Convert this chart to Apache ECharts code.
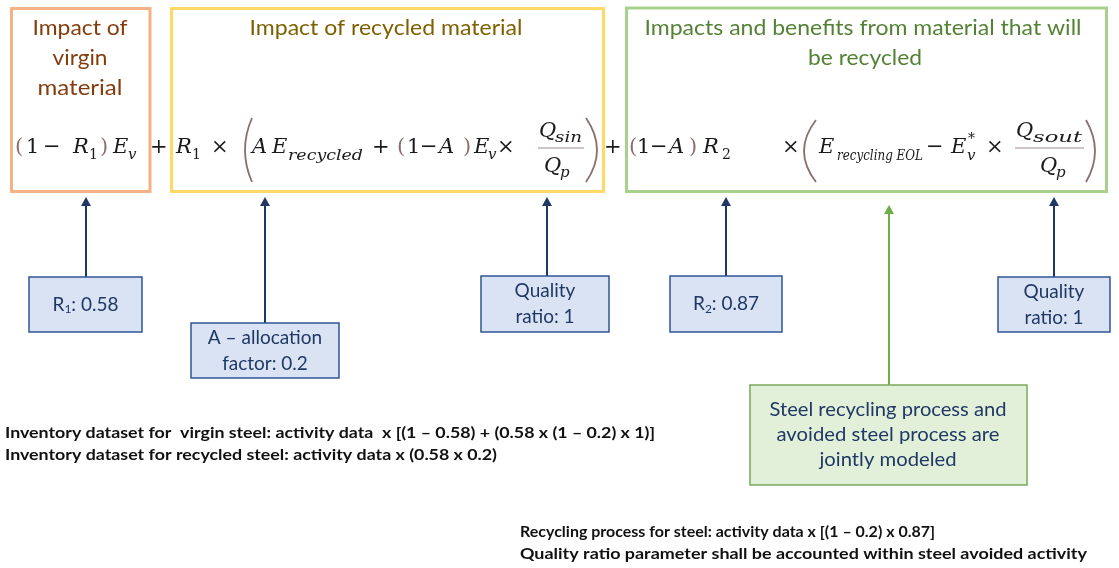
<!DOCTYPE html>
<html><head><meta charset="utf-8">
<script src="https://cdn.jsdelivr.net/npm/echarts@6/dist/echarts.min.js"></script>
<style>html,body{margin:0;padding:0;background:#fff}#c{width:1119px;height:568px}</style>
</head><body><div id="c"></div>
<script>
// ---- content (data) ----
const sectionTitles = [
  ['Impact of', 'virgin', 'material'],
  ['Impact of recycled material'],
  ['Impacts and benefits from material that will', 'be recycled']
];
const paramNames = ['R_1', 'A – allocation\nfactor', 'Quality\nratio', 'R_2', 'Quality\nratio'];
const paramValues = [0.58, 0.2, 1, 0.87, 1];
const jointNote = ['Steel recycling process and', 'avoided steel process are', 'jointly modeled'];
const inventoryNotes = [
  'Inventory dataset for  virgin steel: activity data  x [(1 – 0.58) + (0.58 x (1 – 0.2) x 1)]',
  'Inventory dataset for recycled steel: activity data x (0.58 x 0.2)'
];
const recyclingNotes = [
  'Recycling process for steel: activity data x [(1 – 0.2) x 0.87]',
  'Quality ratio parameter shall be accounted within steel avoided activity'
];

// ---- helpers ----
const cv = document.createElement('canvas').getContext('2d');
function measure(t, font) { cv.font = font; return cv.measureText(t).width; }
function txt(text, x, y, font, fill, align, targetW) {
  const sx = targetW ? targetW / measure(text, font) : 1;
  return { type: 'text', x: x, y: y, scaleX: sx, silent: true,
    style: { text: text, font: font, fill: fill, textAlign: align || 'left', textVerticalAlign: 'middle',
             align: align || 'left', verticalAlign: 'middle' } };
}
function rect(x, y, w, h, stroke, fill, lw) {
  return { type: 'rect', silent: true, shape: { x: x, y: y, width: w, height: h },
    style: { fill: fill || 'none', stroke: stroke, lineWidth: lw } };
}
function arrow(x, y0, tip, color) {
  return [
    { type: 'line', silent: true, shape: { x1: x, y1: y0, x2: x, y2: tip + 8 }, style: { stroke: color, lineWidth: 2 } },
    { type: 'polygon', silent: true, shape: { points: [[x - 5, tip + 9], [x + 5, tip + 9], [x, tip]] }, style: { fill: color } }
  ];
}
function paren(x1, y1, cx, y2, color) {
  return { type: 'bezierCurve', silent: true, shape: { x1: x1, y1: y1, x2: x1, y2: y2, cpx1: cx, cpy1: (y1 + y2) / 2 },
    style: { stroke: color, lineWidth: 1.8, fill: 'none' } };
}

const els = [];
const SANS = 'Lato, "Noto Sans", sans-serif';
const SERIF = '"DejaVu Serif", "Liberation Serif", serif';

// ---- section boxes ----
els.push(rect(11.5, 8.5, 138.5, 183, '#F4B183', null, 3));
els.push(rect(171.5, 8.5, 432, 183, '#FFD966', null, 3));
els.push(rect(626.5, 8, 480, 183.5, '#A9D18E', null, 3));

// ---- section titles ----
const tf = '22px ' + SANS;
const t0W = [95, 55, 85];
sectionTitles[0].forEach((s, i) => els.push(txt(s, 80, 28 + i * 30, tf, '#843C0C', 'center', t0W[i])));
els.push(txt(sectionTitles[1][0], 386, 28, tf, '#7F6000', 'center', 273));
const t2W = [437, 114];
const t2X = [863, 865];
sectionTitles[2].forEach((s, i) => els.push(txt(s, t2X[i], 28 + i * 30, tf, '#548235', 'center', t2W[i])));

// ---- formula ----
const INK = '#1a1a1a', PAR = '#8a6e6e';
const F = {
  u: '21px ' + SERIF, i: 'italic 21px ' + SERIF, p: '21px ' + SERIF,
  si: 'italic 15px ' + SERIF, su: '14px ' + SERIF
};
const toks = [
  ['(', 15, 148, 'p'], ['1', 26, 148, 'u'], ['−', 43, 148, 'u'], ['R', 73, 148, 'i'], ['1', 89, 155, 'su'],
  [')', 100, 148, 'p'], ['E', 113, 148, 'i'], ['v', 128, 155, 'si'], ['+', 150, 148, 'u'],
  ['R', 176, 148, 'i'], ['1', 192, 155, 'su'], ['×', 211, 148, 'u'],
  ['A', 252, 148, 'i'], ['E', 272, 148, 'i'], ['recycled', 288, 156, 'si', 75],
  ['+', 372, 148, 'u'], ['(', 397, 148, 'p'], ['1', 407, 148, 'u'], ['−', 420, 148, 'u'], ['A', 439, 148, 'i'],
  [')', 463, 148, 'p'], ['E', 474, 148, 'i'], ['v', 488, 155, 'si'], ['×', 497, 148, 'u'],
  ['Q', 539, 132, 'i'], ['sin', 555, 138, 'si', 27], ['Q', 544, 167, 'i'], ['p', 560, 173, 'si'],
  ['+', 604, 148, 'u'], ['(', 629, 148, 'p'], ['1', 637, 148, 'u'], ['−', 650, 148, 'u'], ['A', 669, 148, 'i'],
  [')', 689, 148, 'p'], ['R', 703, 148, 'i'], ['2', 722, 155, 'su'], ['×', 782, 148, 'u'],
  ['E', 819, 148, 'i'], ['recycling EOL', 837, 156, 'si', 86], ['−', 926, 148, 'u'], ['E', 951, 148, 'i'],
  ['v', 967, 156, 'si'], ['*', 968, 139, 'su'], ['×', 986, 148, 'u'],
  ['Q', 1016, 132, 'i'], ['sout', 1033, 138, 'si', 49], ['Q', 1040, 167, 'i'], ['p', 1056, 173, 'si']
];
toks.forEach(t => els.push(txt(t[0], t[1], t[2], F[t[3]], t[3] === 'p' ? PAR : INK, 'left', t[4])));
els.push({ type: 'line', silent: true, shape: { x1: 538, y1: 148, x2: 584, y2: 148 }, style: { stroke: '#9a8a8a', lineWidth: 1 } });
els.push({ type: 'line', silent: true, shape: { x1: 1015, y1: 148, x2: 1084, y2: 148 }, style: { stroke: '#9a8a8a', lineWidth: 1 } });
els.push(paren(252, 118, 238, 182, PAR));
els.push(paren(586, 118, 608, 182, PAR));
els.push(paren(816, 120, 792, 182, PAR));
els.push(paren(1086, 120, 1104, 182, PAR));

// ---- parameter boxes + arrows ----
const NAVY = '#1F3864';
const boxes = [
  [29, 277, 113, 55, 86], [191, 323, 148, 55, 265], [481, 276, 128, 56, 547],
  [670, 276, 112, 56, 726], [998, 277, 112, 55, 1054]
];
const pf = '19px ' + SANS, pfs = '12px ' + SANS;
boxes.forEach((b, i) => {
  arrow(b[4], b[1], 197, NAVY).forEach(e => els.push(e));
  els.push(rect(b[0], b[1], b[2], b[3], '#2F5597', '#DAE3F3', 1.5));
  const cx = b[0] + b[2] / 2, cy = b[1] + b[3] / 2;
  const name = paramNames[i], val = paramValues[i];
  const m = name.match(/^(\w)_(\d)$/);
  if (m) {
    const rest = ': ' + val;
    const w1 = measure(m[1], pf), w2 = measure(m[2], pfs), w3 = measure(rest, pf);
    let x = cx - (w1 + w2 + w3) / 2;
    els.push(txt(m[1], x, cy, pf, NAVY, 'left'));
    els.push(txt(m[2], x + w1, cy + 5, pfs, NAVY, 'left'));
    els.push(txt(rest, x + w1 + w2, cy, pf, NAVY, 'left'));
  } else {
    const lines = (name + ': ' + val).split('\n');
    lines.forEach((l, k) => els.push(txt(l, cx, cy + (k - (lines.length - 1) / 2) * 26, pf, NAVY, 'center')));
  }
});

// ---- jointly modeled box ----
arrow(889, 385, 205, '#70AD47').forEach(e => els.push(e));
els.push(rect(750, 385, 277, 100, '#7AA95A', '#E2F0D9', 1.5));
const jW = [237, 223, 137];
jointNote.forEach((s, i) => els.push(txt(s, 888, 410 + i * 25, '19px ' + SANS, NAVY, 'center', jW[i])));

// ---- notes ----
const nf = 'bold 16px ' + SANS;
const invW = [650, 492];
inventoryNotes.forEach((s, i) => els.push(txt(s, 5, 433 + i * 22, nf, '#111', 'left', invW[i])));
const recW = [415, 567];
recyclingNotes.forEach((s, i) => els.push(txt(s, 520, 532 + i * 22, nf, '#111', 'left', recW[i])));

const chart = echarts.init(document.getElementById('c'), null, { renderer: 'canvas' });
chart.setOption({ backgroundColor: '#fff', animation: false, graphic: { elements: els } });
</script></body></html>
